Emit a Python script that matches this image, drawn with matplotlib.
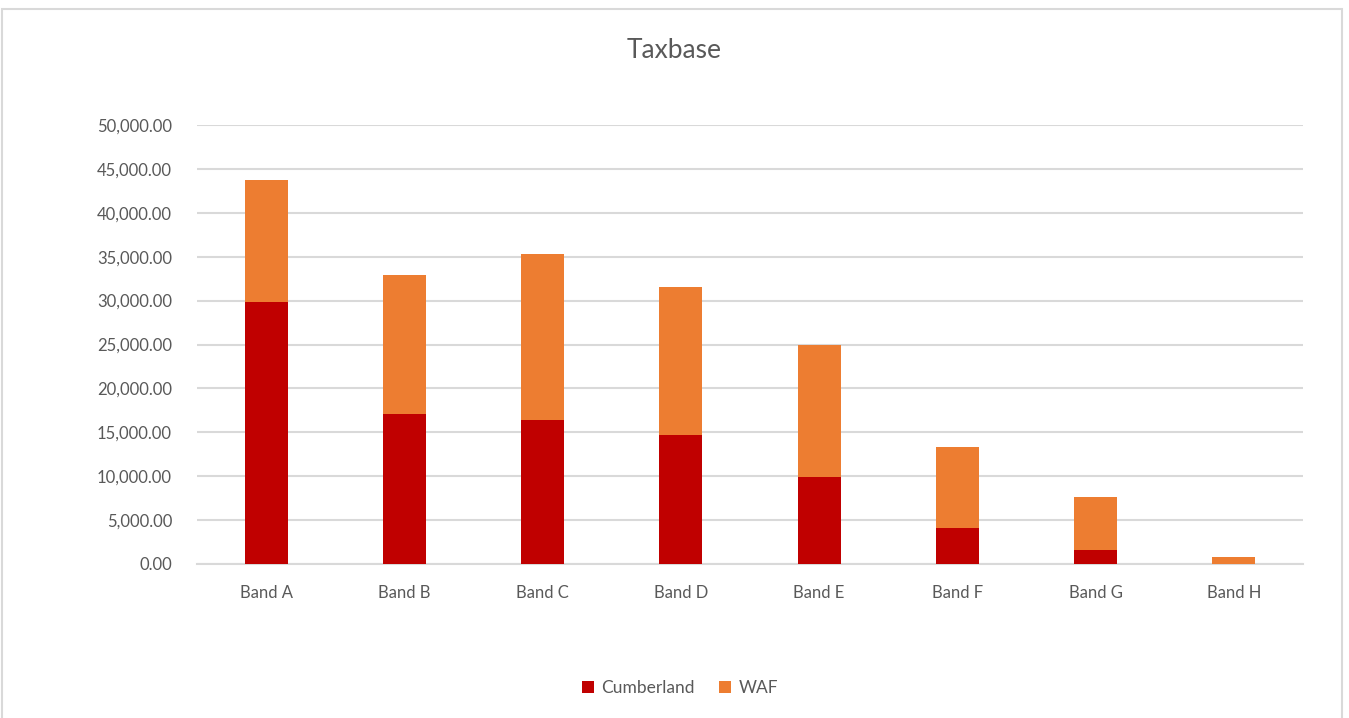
import numpy as np
import matplotlib.pyplot as plt
from matplotlib.patches import Rectangle
from matplotlib.ticker import FuncFormatter

# Taxbase por banda
bands = ["Band A", "Band B", "Band C", "Band D", "Band E", "Band F", "Band G", "Band H"]
cumberland = [29840, 17100, 16400, 14700, 9860, 4100, 1550, 0]
waf = [13930, 15800, 18900, 16800, 15040, 9200, 6030, 750]

RED = "#C00000"
ORANGE = "#ED7D31"
GREY_TXT = "#595959"
GRID = "#D9D9D9"

plt.rcParams['font.family'] = ['Lato', 'DejaVu Sans']

fig = plt.figure(figsize=(13.49, 7.18), dpi=100)
ax = fig.add_axes([197 / 1349, 1 - 564 / 718, (1303 - 197) / 1349, (564 - 125) / 718])

x = np.arange(len(bands))
ax.bar(x, cumberland, width=0.31, color=RED, label="Cumberland", zorder=3)
ax.bar(x, waf, width=0.31, bottom=cumberland, color=ORANGE, label="WAF", zorder=3)

ax.set_xlim(-0.5, len(bands) - 0.5)
ax.set_ylim(0, 50000)
ax.set_yticks(np.arange(0, 50001, 5000))
ax.yaxis.set_major_formatter(FuncFormatter(lambda v, p: f"{v:,.2f}"))
ax.set_xticks(x)
ax.set_xticklabels(bands)
ax.grid(axis="y", color=GRID, linewidth=1.5, zorder=0)
for s in ["top", "right", "left"]:
    ax.spines[s].set_visible(False)
ax.spines["bottom"].set_color(GRID)
ax.spines["bottom"].set_linewidth(1.5)
ax.tick_params(axis="both", length=0, labelsize=12, labelcolor=GREY_TXT)
ax.tick_params(axis="x", pad=15)
ax.tick_params(axis="y", pad=18)

fig.text(0.5, 1 - 51 / 718, "Taxbase", ha="center", va="center", fontsize=19, color=GREY_TXT)

leg = fig.legend(loc="center", bbox_to_anchor=(680 / 1349, 1 - 688 / 718), ncol=2, frameon=False,
                 fontsize=12.5, handlelength=0.7, handleheight=0.7, columnspacing=1.4, handletextpad=0.4)
for t in leg.get_texts():
    t.set_color(GREY_TXT)

# marco del gráfico
fig.patches.append(Rectangle((2 / 1349, -0.05), 1340 / 1349, 1.05 - 9 / 718, transform=fig.transFigure,
                             fill=False, edgecolor="#D9D9D9", linewidth=1.5))

fig.savefig("out.png", dpi=100)
